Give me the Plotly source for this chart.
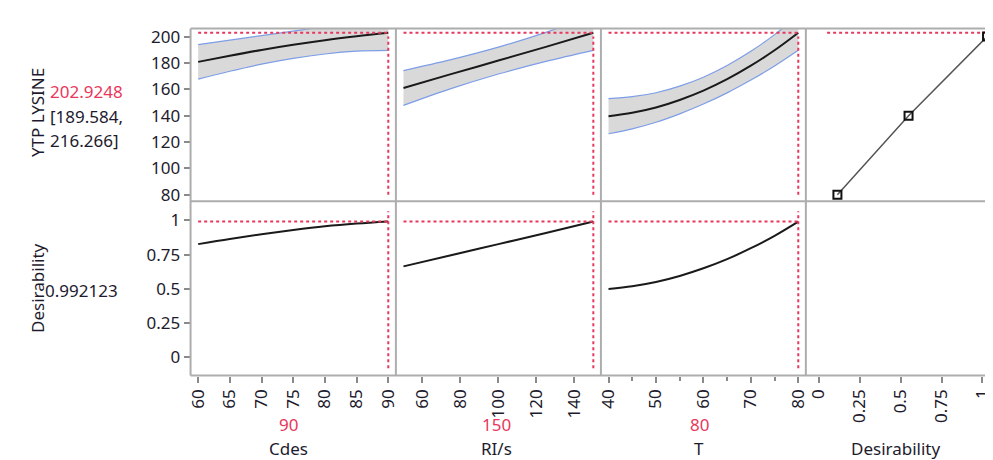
import plotly.graph_objects as go

W, H = 993, 460

# ---------------- data ----------------
CDES_X = [60, 65, 70, 75, 80, 85, 90]
CDES_PRED = [180.8, 185.5, 189.9, 193.8, 197.3, 200.3, 202.9248]
CDES_UP = [193.9, 197.3, 200.7, 204.1, 207.8, 211.7, 216.266]
CDES_LO = [167.7, 173.7, 179.1, 183.5, 186.8, 188.9, 189.584]
CDES_DES = [0.827, 0.865, 0.899, 0.930, 0.957, 0.977, 0.992123]

RI_X = [50, 75, 100, 125, 150]
RI_PRED = [161.0, 171.5, 181.8, 192.2, 202.9248]
RI_UP = [174.2, 182.5, 192.0, 203.2, 216.266]
RI_LO = [147.8, 160.5, 171.6, 181.2, 189.584]
RI_DES = [0.664, 0.745, 0.827, 0.909, 0.992123]

T_X = [40, 45, 50, 55, 60, 65, 70, 75, 80]
T_PRED = [139.6, 142.2, 146.2, 151.9, 159.0, 167.7, 177.9, 189.6, 202.9248]
T_UP = [152.9, 154.4, 157.4, 162.4, 169.2, 178.1, 188.8, 201.5, 216.266]
T_LO = [126.3, 130.0, 135.0, 141.4, 148.8, 157.3, 167.0, 177.7, 189.584]
T_DES = [0.498, 0.519, 0.550, 0.594, 0.650, 0.717, 0.797, 0.888, 0.992123]

DFUN_D = [0.113, 0.548, 1.028]
DFUN_Y = [80, 140, 200]

FACTORS = ["Cdes", "RI/s", "T"]
CURRENT = [90, 150, 80]
PRED_VALUE = 202.9248
PRED_CI = [189.584, 216.266]
DESIRABILITY = 0.992123

Y_TICKS = [80, 100, 120, 140, 160, 180, 200]
D_TICKS = [0, 0.25, 0.5, 0.75, 1]
D_TICKTEXT = ["0", "0.25", "0.5", "0.75", "1"]
CDES_TICKS = [60, 65, 70, 75, 80, 85, 90]
RI_TICKS = [60, 80, 100, 120, 140]
T_TICKS = [40, 50, 60, 70, 80]
T_MINOR = [45, 55, 65, 75]

# ---------------- style ----------------
FONT = "Noto Sans"
FS = 17
TXT = "#1e1b2e"
RED = "#e8375c"
GRID = "#adadad"
BAND = "#d9d9d9"
CI_COL = "#7d9de6"

COLS_PX = [179, 386, 592.7, 799.3, 993]
ROWS_PX = [16.7, 192.7, 370]

def xd(a, b):
    return [a / W, b / W]

def yd(a, b):
    return [1 - b / H, 1 - a / H]

fig = go.Figure()

panels = [
    (CDES_X, CDES_PRED, CDES_UP, CDES_LO, CDES_DES),
    (RI_X, RI_PRED, RI_UP, RI_LO, RI_DES),
    (T_X, T_PRED, T_UP, T_LO, T_DES),
]

for i, (xs, pr, up, lo, de) in enumerate(panels):
    xa_top = "x" + ("" if i == 0 else str(i + 1))
    ya_top = "y" + ("" if i == 0 else str(i + 1))
    xa_bot = "x" + str(i + 5)
    ya_bot = "y" + str(i + 5)
    fig.add_trace(go.Scatter(x=xs, y=up, mode="lines", line=dict(color=CI_COL, width=1.2, shape="spline"),
                             xaxis=xa_top, yaxis=ya_top, showlegend=False, hoverinfo="skip"))
    fig.add_trace(go.Scatter(x=xs, y=lo, mode="lines", line=dict(color=CI_COL, width=1.2, shape="spline"),
                             fill="tonexty", fillcolor=BAND,
                             xaxis=xa_top, yaxis=ya_top, showlegend=False, hoverinfo="skip"))
    fig.add_trace(go.Scatter(x=xs, y=pr, mode="lines", line=dict(color="#1a1a1a", width=2, shape="spline"),
                             xaxis=xa_top, yaxis=ya_top, showlegend=False))
    # red crosshairs top
    fig.add_trace(go.Scatter(x=[xs[0], xs[-1]], y=[PRED_VALUE, PRED_VALUE], mode="lines",
                             line=dict(color=RED, width=2, dash="dot"),
                             xaxis=xa_top, yaxis=ya_top, showlegend=False, hoverinfo="skip"))
    fig.add_trace(go.Scatter(x=[CURRENT[i], CURRENT[i]], y=[Y_TICKS[0], Y_TICKS[-1]], mode="lines",
                             line=dict(color=RED, width=2, dash="dot"),
                             xaxis=xa_top, yaxis=ya_top, showlegend=False, hoverinfo="skip"))
    # bottom
    fig.add_trace(go.Scatter(x=xs, y=de, mode="lines", line=dict(color="#1a1a1a", width=2, shape="spline"),
                             xaxis=xa_bot, yaxis=ya_bot, showlegend=False))
    fig.add_trace(go.Scatter(x=[xs[0], xs[-1]], y=[DESIRABILITY, DESIRABILITY], mode="lines",
                             line=dict(color=RED, width=2, dash="dot"),
                             xaxis=xa_bot, yaxis=ya_bot, showlegend=False, hoverinfo="skip"))
    fig.add_trace(go.Scatter(x=[CURRENT[i], CURRENT[i]], y=[-0.082, 1.068], mode="lines",
                             line=dict(color=RED, width=2, dash="dot"),
                             xaxis=xa_bot, yaxis=ya_bot, showlegend=False, hoverinfo="skip"))

# desirability function panel
fig.add_trace(go.Scatter(x=[0.05, 1.02], y=[PRED_VALUE, PRED_VALUE], mode="lines",
                         line=dict(color=RED, width=2, dash="dot"),
                         xaxis="x4", yaxis="y4", showlegend=False, hoverinfo="skip"))
fig.add_trace(go.Scatter(x=DFUN_D, y=DFUN_Y, mode="lines+markers",
                         line=dict(color="#555555", width=1.5),
                         marker=dict(symbol="square-open", size=8, color="#111111", line=dict(width=2)),
                         cliponaxis=False,
                         xaxis="x4", yaxis="y4", showlegend=False))
# empty bottom-right panel
fig.add_trace(go.Scatter(x=[None], y=[None], xaxis="x8", yaxis="y8", showlegend=False))

tickfont = dict(family=FONT, size=FS, color=TXT)
x_ranges = [[58.8, 91.2], [46, 154], [38.4, 81.6], [-0.08, 1.095]]
x_ticks = [CDES_TICKS, RI_TICKS, T_TICKS, D_TICKS]
x_text = [None, None, None, D_TICKTEXT]

layout = dict(
    width=W, height=H, margin=dict(l=0, r=0, t=0, b=0),
    paper_bgcolor="white", plot_bgcolor="white",
    font=dict(family=FONT, size=FS, color=TXT),
)

for c in range(4):
    dom = xd(COLS_PX[c], COLS_PX[c + 1])
    for r in range(2):
        idx = r * 4 + c + 1
        xkey = "xaxis" + ("" if idx == 1 else str(idx))
        ykey = "yaxis" + ("" if idx == 1 else str(idx))
        xref = "y" + ("" if idx == 1 else str(idx))
        xa = dict(domain=dom, range=x_ranges[c], anchor=xref, showgrid=False, zeroline=False,
                  showline=False, fixedrange=True)
        if r == 1:
            xa.update(tickmode="array", tickvals=x_ticks[c], ticks="outside", ticklen=6,
                      tickcolor="#8a8a8a", tickwidth=1.5, tickangle=-90, tickfont=tickfont)
            if x_text[c] is not None:
                xa["ticktext"] = x_text[c]
            if c == 2:
                xa["minor"] = dict(tickmode="array", tickvals=T_MINOR, ticks="outside",
                                   ticklen=4, tickcolor="#8a8a8a", tickwidth=1.5)
        else:
            xa.update(showticklabels=False, ticks="")
        layout[xkey] = xa
        ydom = yd(ROWS_PX[r], ROWS_PX[r + 1])
        xanc = "x" + ("" if idx == 1 else str(idx))
        ya = dict(domain=ydom, anchor=xanc, showgrid=False, zeroline=False, showline=False, fixedrange=True)
        if r == 0:
            ya["range"] = [75, 206.2]
        else:
            ya["range"] = [-0.135, 1.14]
        if c == 0:
            if r == 0:
                ya.update(tickmode="array", tickvals=Y_TICKS)
            else:
                ya.update(tickmode="array", tickvals=D_TICKS, ticktext=D_TICKTEXT)
            ya.update(ticks="outside", ticklen=6, tickcolor="#8a8a8a", tickwidth=1.5, tickfont=tickfont)
        else:
            ya.update(showticklabels=False, ticks="")
        layout[ykey] = ya

shapes = []
for yp in ROWS_PX:
    shapes.append(dict(type="line", xref="paper", yref="paper", x0=COLS_PX[0] / W, x1=1,
                       y0=1 - yp / H, y1=1 - yp / H, line=dict(color=GRID, width=2)))
for xp in COLS_PX[:4]:
    shapes.append(dict(type="line", xref="paper", yref="paper", x0=xp / W, x1=xp / W,
                       y0=1 - ROWS_PX[2] / H, y1=1 - ROWS_PX[0] / H, line=dict(color=GRID, width=2)))
layout["shapes"] = shapes

ann = []
def A(text, x, y, color=TXT, angle=0, xanchor="center", size=FS):
    ann.append(dict(text=text, x=x / W, y=1 - y / H, xref="paper", yref="paper", showarrow=False,
                    textangle=angle, xanchor=xanchor, yanchor="middle", borderpad=0,
                    font=dict(family=FONT, size=size, color=color)))

A("YTP LYSINE", 24, 102, angle=-90)
A(f"{PRED_VALUE:.4f}", 36, 81, color=RED, xanchor="left")
A(f"[{PRED_CI[0]:.3f},", 36, 106, xanchor="left")
A(f"{PRED_CI[1]:.3f}]", 36, 131, xanchor="left")
A("Desirability", 24, 281, angle=-90)
A(f"{DESIRABILITY:.6f}", 31, 283, xanchor="left")

centers = [278, 487, 692, 890]
for k in range(3):
    A(str(CURRENT[k]), centers[k], 420, color=RED)
for k, name in enumerate(FACTORS + ["Desirability"]):
    A(name, centers[k], 444)
layout["annotations"] = ann

fig.update_layout(**layout)
fig.write_html("out.html")
